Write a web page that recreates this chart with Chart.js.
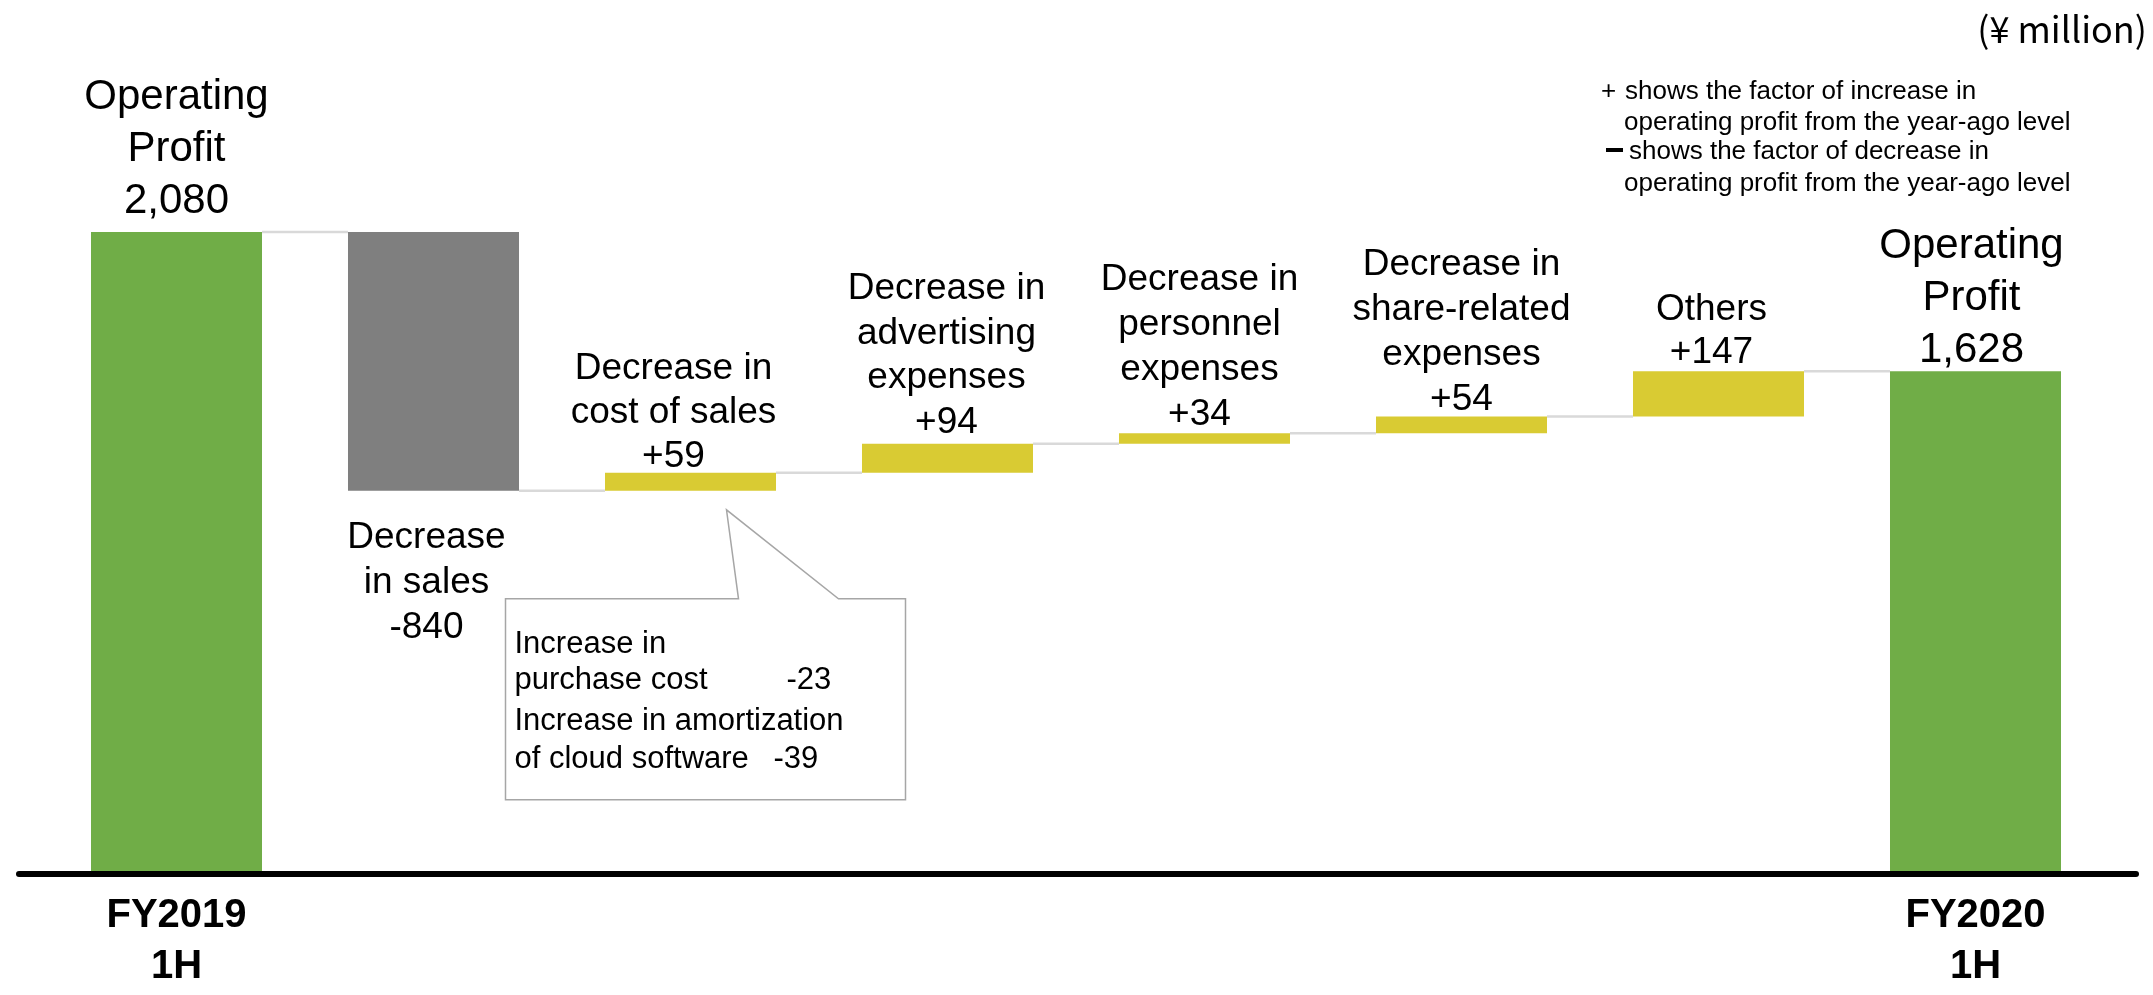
<!DOCTYPE html>
<html lang="en">
<head>
<meta charset="UTF-8">
<title>Operating Profit Bridge</title>
<script src="https://cdn.jsdelivr.net/npm/chart.js"></script>
<style>
  body { margin: 0; background: #fff; }
  .chart-box { position: relative; width: 2153px; height: 995px; }
</style>
</head>
<body>
<div class="chart-box"><canvas id="bridge"></canvas></div>
<script>
// data (¥ million)
var tickLabels = [['FY2019', '1H'], '', '', '', '', '', '', ['FY2020', '1H']];
var factorNames = [
    ['Operating', 'Profit'],
    ['Decrease', 'in sales'],
    ['Decrease in', 'cost of sales'],
    ['Decrease in', 'advertising', 'expenses'],
    ['Decrease in', 'personnel', 'expenses'],
    ['Decrease in', 'share-related', 'expenses'],
    ['Others'],
    ['Operating', 'Profit']
];
var startProfit = 2080;
var factorChanges = [-840, 59, 94, 34, 54, 147];
var endProfit = 1628;
var calloutLines = ['Increase in', 'purchase cost', 'Increase in amortization', 'of cloud software'];
var calloutValues = [null, -23, null, -39];

var FONT = '"Liberation Sans", Arial, sans-serif';

// floating ranges for the waterfall
var ranges = [[0, startProfit]];
var running = startProfit;
factorChanges.forEach(function (d) {
    ranges.push([running, running + d]);
    running += d;
});
ranges.push([0, endProfit]);

var barColors = ranges.map(function (r, i) {
    if (i === 0 || i === ranges.length - 1) return '#70ad47';
    return r[1] < r[0] ? '#7f7f7f' : '#d9cb33';
});

var valueText = ranges.map(function (r, i) {
    if (i === 0 || i === ranges.length - 1) return r[1].toLocaleString('en-US');
    var d = factorChanges[i - 1];
    return (d > 0 ? '+' : '') + d;
});

// per-bar text placement (size, line height, gap to bar, x shift)
var labelStyle = [
    { size: 42, lh: 52, gap: 19, dx: 0 },
    { size: 37, lh: 45, gap: 57, dx: -7, below: true },
    { size: 37, lh: 44, gap: 6, dx: -17 },
    { size: 37, lh: 44.5, gap: 11, dx: -1 },
    { size: 37, lh: 45, gap: 8, dx: -5 },
    { size: 37, lh: 45, gap: 7, dx: 0 },
    { size: 37, lh: 43, gap: 8, dx: -7 },
    { size: 42, lh: 52, gap: 9, dx: -4 }
];

var bridgeDecor = {
    id: 'bridgeDecor',
    afterDatasetsDraw: function (chart) {
        var ctx = chart.ctx;
        var bars = chart.getDatasetMeta(0).data;
        var y = chart.scales.y;
        var area = chart.chartArea;

        ctx.save();

        // connectors between bars
        ctx.strokeStyle = '#d9d9d9';
        ctx.lineWidth = 2.5;
        for (var i = 0; i < bars.length - 1; i++) {
            var lvl = y.getPixelForValue(ranges[i][1]);
            ctx.beginPath();
            ctx.moveTo(bars[i].x + bars[i].width / 2, lvl);
            ctx.lineTo(bars[i + 1].x - bars[i + 1].width / 2, lvl);
            ctx.stroke();
        }

        // base line
        var zero = y.getPixelForValue(0) + 1;
        ctx.strokeStyle = '#000';
        ctx.lineWidth = 6;
        ctx.lineCap = 'round';
        ctx.beginPath();
        ctx.moveTo(area.left - 29, zero);
        ctx.lineTo(area.right + 32, zero);
        ctx.stroke();
        ctx.lineCap = 'butt';

        // bar labels
        ctx.fillStyle = '#000';
        ctx.textAlign = 'center';
        ctx.textBaseline = 'alphabetic';
        bars.forEach(function (bar, i) {
            var st = labelStyle[i];
            var lines = factorNames[i].concat([valueText[i]]);
            var top = Math.min(bar.y, bar.base);
            var bottom = Math.max(bar.y, bar.base);
            ctx.font = st.size + 'px ' + FONT;
            lines.forEach(function (t, k) {
                var by;
                if (st.below) by = bottom + st.gap + k * st.lh;
                else by = top - st.gap - (lines.length - 1 - k) * st.lh;
                ctx.fillText(t, bar.x + st.dx, by);
            });
        });

        // callout for cost of sales
        var b3 = bars[2];
        var tipX = b3.x + 36;
        var tipY = Math.max(b3.y, b3.base) + 19;
        var bl = tipX - 221, br = tipX + 179, bt = tipY + 89, bb = bt + 201;
        ctx.beginPath();
        ctx.moveTo(bl, bt);
        ctx.lineTo(tipX + 12, bt);
        ctx.lineTo(tipX, tipY);
        ctx.lineTo(tipX + 112, bt);
        ctx.lineTo(br, bt);
        ctx.lineTo(br, bb);
        ctx.lineTo(bl, bb);
        ctx.closePath();
        ctx.fillStyle = '#fff';
        ctx.fill();
        ctx.strokeStyle = '#a6a6a6';
        ctx.lineWidth = 1.5;
        ctx.stroke();

        ctx.fillStyle = '#000';
        ctx.textAlign = 'left';
        ctx.font = '31px ' + FONT;
        var calloutBase = [54, 90, 131, 169];
        var valueX = [0, 281, 0, 268];
        calloutLines.forEach(function (t, k) {
            ctx.fillText(t, bl + 9, bt + calloutBase[k]);
            if (calloutValues[k] !== null) {
                ctx.fillText(String(calloutValues[k]), bl + valueX[k], bt + calloutBase[k]);
            }
        });

        // unit + sign note, top right
        ctx.textAlign = 'right';
        ctx.font = '36px "Noto Sans CJK JP", ' + FONT;
        ctx.fillText('(¥ million)', 2147, 43);

        ctx.textAlign = 'left';
        ctx.font = '26px ' + FONT;
        ctx.fillText('+', 1601, 99);
        ctx.fillText('shows the factor of increase in', 1625, 99);
        ctx.fillText('operating profit from the year-ago level', 1624, 130);
        ctx.fillText('shows the factor of decrease in', 1629, 159);
        ctx.fillText('operating profit from the year-ago level', 1624, 191);
        ctx.fillRect(1606, 148, 17, 4);

        ctx.restore();
    }
};

var ctx = document.getElementById('bridge').getContext('2d');
window.myChart = new Chart(ctx, {
    type: 'bar',
    data: {
        labels: tickLabels,
        datasets: [{
            data: ranges,
            backgroundColor: barColors,
            borderWidth: 0,
            borderSkipped: false,
            barPercentage: 0.6654,
            categoryPercentage: 1
        }]
    },
    options: {
        responsive: true,
        maintainAspectRatio: false,
        animation: false,
        layout: { padding: { top: 10, left: 48, right: 49, bottom: 0 } },
        plugins: {
            legend: { display: false },
            tooltip: { enabled: false }
        },
        scales: {
            x: {
                grid: { display: false, drawTicks: false },
                border: { display: false },
                ticks: {
                    color: '#000',
                    font: { family: FONT, size: 40, weight: 'bold', lineHeight: 1.275 },
                    padding: 17,
                    maxRotation: 0,
                    autoSkip: false
                },
                afterFit: function (s) { s.height = 122; }
            },
            y: { display: false, min: 0, max: 2800 }
        }
    },
    plugins: [bridgeDecor]
});
</script>
</body>
</html>
